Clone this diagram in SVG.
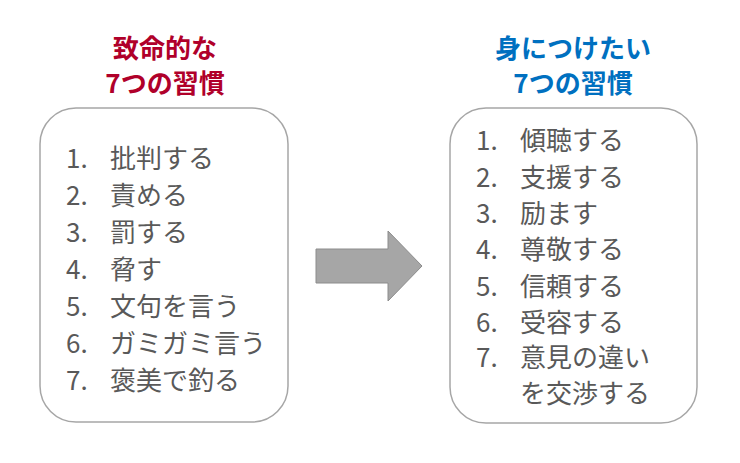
<svg xmlns="http://www.w3.org/2000/svg" width="740" height="463" viewBox="0 0 740 463">
<style>
.t{font-family:"Noto Sans CJK JP","Noto Sans",sans-serif;font-weight:bold;font-size:26px;text-anchor:middle}
.l{font-family:"Noto Sans CJK JP","Noto Sans",sans-serif;font-size:26px;fill:#595959}
.box{fill:#fff;stroke:#a6a6a6;stroke-width:1.5}
</style>
<rect width="740" height="463" fill="#fff"/>
<g id="left">
<text class="t" fill="#B0002A" x="165" y="58">致命的な</text>
<text class="t" fill="#B0002A" x="165" y="93">7つの習慣</text>
<rect class="box" x="40" y="108" width="248" height="314" rx="36"/>
<g class="l">
<text x="66" y="168">1.</text><text x="110" y="168">批判する</text>
<text x="66" y="205">2.</text><text x="110" y="205">責める</text>
<text x="66" y="242">3.</text><text x="110" y="242">罰する</text>
<text x="66" y="279">4.</text><text x="110" y="279">脅す</text>
<text x="66" y="316">5.</text><text x="110" y="316">文句を言う</text>
<text x="66" y="353">6.</text><text x="110" y="353">ガミガミ言う</text>
<text x="66" y="390">7.</text><text x="110" y="390">褒美で釣る</text>
</g>
</g>
<g id="connectors">
<polygon points="316,249 388,249 388,231 422,266 388,301 388,283 316,283" fill="#a6a6a6" stroke="#8c8c8c" stroke-width="1"/>
</g>
<g id="right">
<text class="t" fill="#0070C0" x="573" y="58">身につけたい</text>
<text class="t" fill="#0070C0" x="573" y="93">7つの習慣</text>
<rect class="box" x="450" y="108" width="247" height="315" rx="36"/>
<g class="l">
<text x="476" y="150">1.</text><text x="520" y="150">傾聴する</text>
<text x="476" y="187">2.</text><text x="520" y="187">支援する</text>
<text x="476" y="223">3.</text><text x="520" y="223">励ます</text>
<text x="476" y="259">4.</text><text x="520" y="259">尊敬する</text>
<text x="476" y="296">5.</text><text x="520" y="296">信頼する</text>
<text x="476" y="332">6.</text><text x="520" y="332">受容する</text>
<text x="476" y="367">7.</text><text x="520" y="367">意見の違い</text>
<text x="520" y="403">を交渉する</text>
</g>
</g>
</svg>
